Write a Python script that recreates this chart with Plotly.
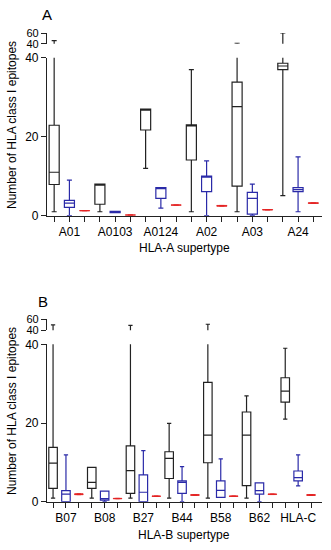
import plotly.graph_objects as go

# ---------------- data ----------------
cats_a = ["A01", "A0103", "A0124", "A02", "A03", "A24"]
cats_b = ["B07", "B08", "B27", "B44", "B58", "B62", "HLA-C"]

# Panel A – black series
a_blk_low = [1.0, 1.0, 12.0, 1.0, 1.0, 5.1]
a_blk_q1 = [7.9, 2.9, 21.7, 14.1, 7.5, 37.0]
a_blk_med = [11.0, 8.0, 27.0, 23.0, 27.6, 37.9]
a_blk_q3 = [22.9, 8.0, 27.0, 23.0, 33.8, 38.6]
a_blk_up = [46.0, 8.0, 27.0, 37.0, 41.0, 60.0]
# Panel A – blue series
a_blu_low = [0.0, 0.8, 1.9, 0.0, 0.0, 1.0]
a_blu_q1 = [2.1, 0.8, 4.4, 6.1, 0.4, 6.1]
a_blu_med = [3.2, 0.9, 7.1, 10.0, 4.4, 6.6]
a_blu_q3 = [3.9, 1.1, 7.1, 10.0, 5.9, 7.1]
a_blu_up = [9.0, 1.1, 7.1, 13.9, 8.0, 14.9]
# Panel A – red series
a_red_q1 = [1.24, 0.14, 2.67, 2.4, 1.44, 3.12]
a_red_med = [1.27, 0.17, 2.7, 2.5, 1.5, 3.2]
a_red_q3 = [1.3, 0.2, 2.73, 2.6, 1.56, 3.28]

# Panel B – black series
b_blk_low = [0.9, 0.9, 0.9, 0.9, 0.9, 0.9, 21.0]
b_blk_q1 = [3.4, 3.4, 2.1, 5.9, 9.9, 4.1, 25.3]
b_blk_med = [9.8, 4.9, 7.9, 11.0, 16.9, 16.9, 28.1]
b_blk_q3 = [13.8, 8.7, 14.2, 12.7, 30.3, 22.8, 31.5]
b_blk_up = [50.0, 8.7, 49.0, 19.9, 51.0, 26.9, 39.0]
# Panel B – blue series
b_blu_low = [0.0, 0.0, 0.0, 0.0, 1.1, 0.0, 4.0]
b_blu_q1 = [0.0, 0.4, 0.0, 2.1, 1.1, 1.9, 5.3]
b_blu_med = [1.9, 0.8, 2.4, 4.9, 2.9, 2.8, 6.1]
b_blu_q3 = [2.8, 2.7, 6.8, 5.3, 5.3, 4.8, 7.8]
b_blu_up = [11.9, 2.7, 13.0, 8.9, 10.9, 4.8, 11.9]
# Panel B – red series
b_red_q1 = [1.78, 0.74, 1.34, 1.6, 1.32, 1.82, 1.58]
b_red_med = [1.9, 0.8, 1.4, 1.7, 1.4, 1.9, 1.7]
b_red_q3 = [2.02, 0.86, 1.46, 1.8, 1.48, 1.98, 1.82]

y_ticks_low = [0, 20, 40]
y_ticks_up = [40, 60]
BREAK = 40

# ---------------- style ----------------
BLACK = "#222222"
BLUE = "#2a2aa8"
RED = "#e32222"
FONT = "Liberation Sans, Arial, sans-serif"
W, H = 331, 550


def px_x(p):
    return p / W


def px_y(p):
    return 1 - p / H


fig = go.Figure()


def box(xaxis, ya, pos, low, q1, med, q3, up, color, fill, lw):
    fig.add_trace(go.Box(
        x=pos, q1=q1, median=med, q3=q3, lowerfence=low, upperfence=up,
        xaxis=xaxis, yaxis=ya, width=0.66, whiskerwidth=0.5,
        line=dict(color=color, width=lw), fillcolor=fill,
        boxpoints=False, showlegend=False, hoverinfo="skip",
    ))


def add_series(xaxis, ylow, yup, pos, low, q1, med, q3, up, color, fill, lw):
    box(xaxis, ylow, pos, low, q1, med, q3, up, color, fill, lw)
    if yup is None:
        return
    idx = [i for i, u in enumerate(up) if u > BREAK]
    if idx:
        sel = lambda arr: [arr[i] for i in idx]
        box(xaxis, yup, sel(pos), sel(low), sel(q1), sel(med), sel(q3), sel(up),
            color, fill, lw)


# Panel A
na = len(cats_a)
pa_blk = [3 * i for i in range(na)]
pa_blu = [3 * i + 1 for i in range(na)]
pa_red = [3 * i + 2 for i in range(na)]
add_series("x", "y", "y2", pa_blk, a_blk_low, a_blk_q1, a_blk_med, a_blk_q3, a_blk_up, BLACK, "rgba(0,0,0,0)", 1.2)
add_series("x", "y", "y2", pa_blu, a_blu_low, a_blu_q1, a_blu_med, a_blu_q3, a_blu_up, BLUE, "rgba(0,0,0,0)", 1.2)
add_series("x", "y", None, pa_red, a_red_q1, a_red_q1, a_red_med, a_red_q3, a_red_q3, RED, RED, 0.8)

# Panel B
nb = len(cats_b)
pb_blk = [3 * i for i in range(nb)]
pb_blu = [3 * i + 1 for i in range(nb)]
pb_red = [3 * i + 2 for i in range(nb)]
add_series("x2", "y3", "y4", pb_blk, b_blk_low, b_blk_q1, b_blk_med, b_blk_q3, b_blk_up, BLACK, "rgba(0,0,0,0)", 1.2)
add_series("x2", "y3", "y4", pb_blu, b_blu_low, b_blu_q1, b_blu_med, b_blu_q3, b_blu_up, BLUE, "rgba(0,0,0,0)", 1.2)
add_series("x2", "y3", None, pb_red, b_red_q1, b_red_q1, b_red_med, b_red_q3, b_red_q3, RED, RED, 0.8)


def xaxis_cfg(n, cats, right):
    vals = list(range(3 * n))
    text = [cats[v // 3] if v % 3 == 1 else "" for v in vals]
    return dict(
        range=[-0.47, right], showline=True, linecolor=BLACK, linewidth=1.2,
        ticks="outside", ticklen=5, tickwidth=1.2, tickcolor=BLACK,
        tickvals=vals, ticktext=text, showgrid=False, zeroline=False,
        tickfont=dict(size=12, color="black", family=FONT), fixedrange=True,
        automargin=False,
    )


def yaxis_cfg(rng, dom, ticks, anchor, fs):
    return dict(
        range=rng, domain=dom, anchor=anchor, showline=True, linecolor=BLACK,
        linewidth=1.2, ticks="outside", ticklen=5, tickwidth=1.2,
        tickcolor=BLACK, tickvals=ticks, showgrid=False, zeroline=False,
        tickfont=dict(size=fs, color="black", family=FONT), fixedrange=True,
        automargin=False,
    )


x_dom = [px_x(47), px_x(322)]
fig.update_layout(
    width=W, height=H, margin=dict(l=0, r=0, t=0, b=0, autoexpand=False),
    paper_bgcolor="white", plot_bgcolor="white",
    font=dict(family=FONT, color="black", size=12),
    xaxis=dict(domain=x_dom, anchor="y", **xaxis_cfg(na, cats_a, 17.57)),
    xaxis2=dict(domain=x_dom, anchor="y3", **xaxis_cfg(nb, cats_b, 20.85)),
    yaxis=yaxis_cfg([0, 40], [px_y(215.7), px_y(57.7)], y_ticks_low, "x", 12),
    yaxis2=yaxis_cfg([40, 60], [px_y(43.8), px_y(33.0)], y_ticks_up, "x", 11),
    yaxis3=yaxis_cfg([0, 40], [px_y(501.7), px_y(344.3)], y_ticks_low, "x2", 12),
    yaxis4=yaxis_cfg([40, 60], [px_y(330.3), px_y(319.3)], y_ticks_up, "x2", 11),
)

ann = [
    dict(text="A", x=px_x(47), y=px_y(14.5), size=15),
    dict(text="B", x=px_x(43.5), y=px_y(301), size=15),
    dict(text="HLA-A supertype", x=px_x(184), y=px_y(248), size=12),
    dict(text="HLA-B supertype", x=px_x(184), y=px_y(535), size=12),
]
for a in ann:
    fig.add_annotation(text=a["text"], x=a["x"], y=a["y"], xref="paper", yref="paper",
                       showarrow=False, xanchor="center", yanchor="middle",
                       font=dict(size=a["size"], color="black", family=FONT))
for yc in (125, 411):
    fig.add_annotation(text="Number of HLA class I epitopes", x=px_x(12), y=px_y(yc),
                       xref="paper", yref="paper", showarrow=False, textangle=-90,
                       xanchor="center", yanchor="middle",
                       font=dict(size=12, color="black", family=FONT))

fig.write_html(
    "out.html",
    config={"displayModeBar": False},
    post_script="document.body.style.margin='0';document.body.style.overflow='hidden';",
)
